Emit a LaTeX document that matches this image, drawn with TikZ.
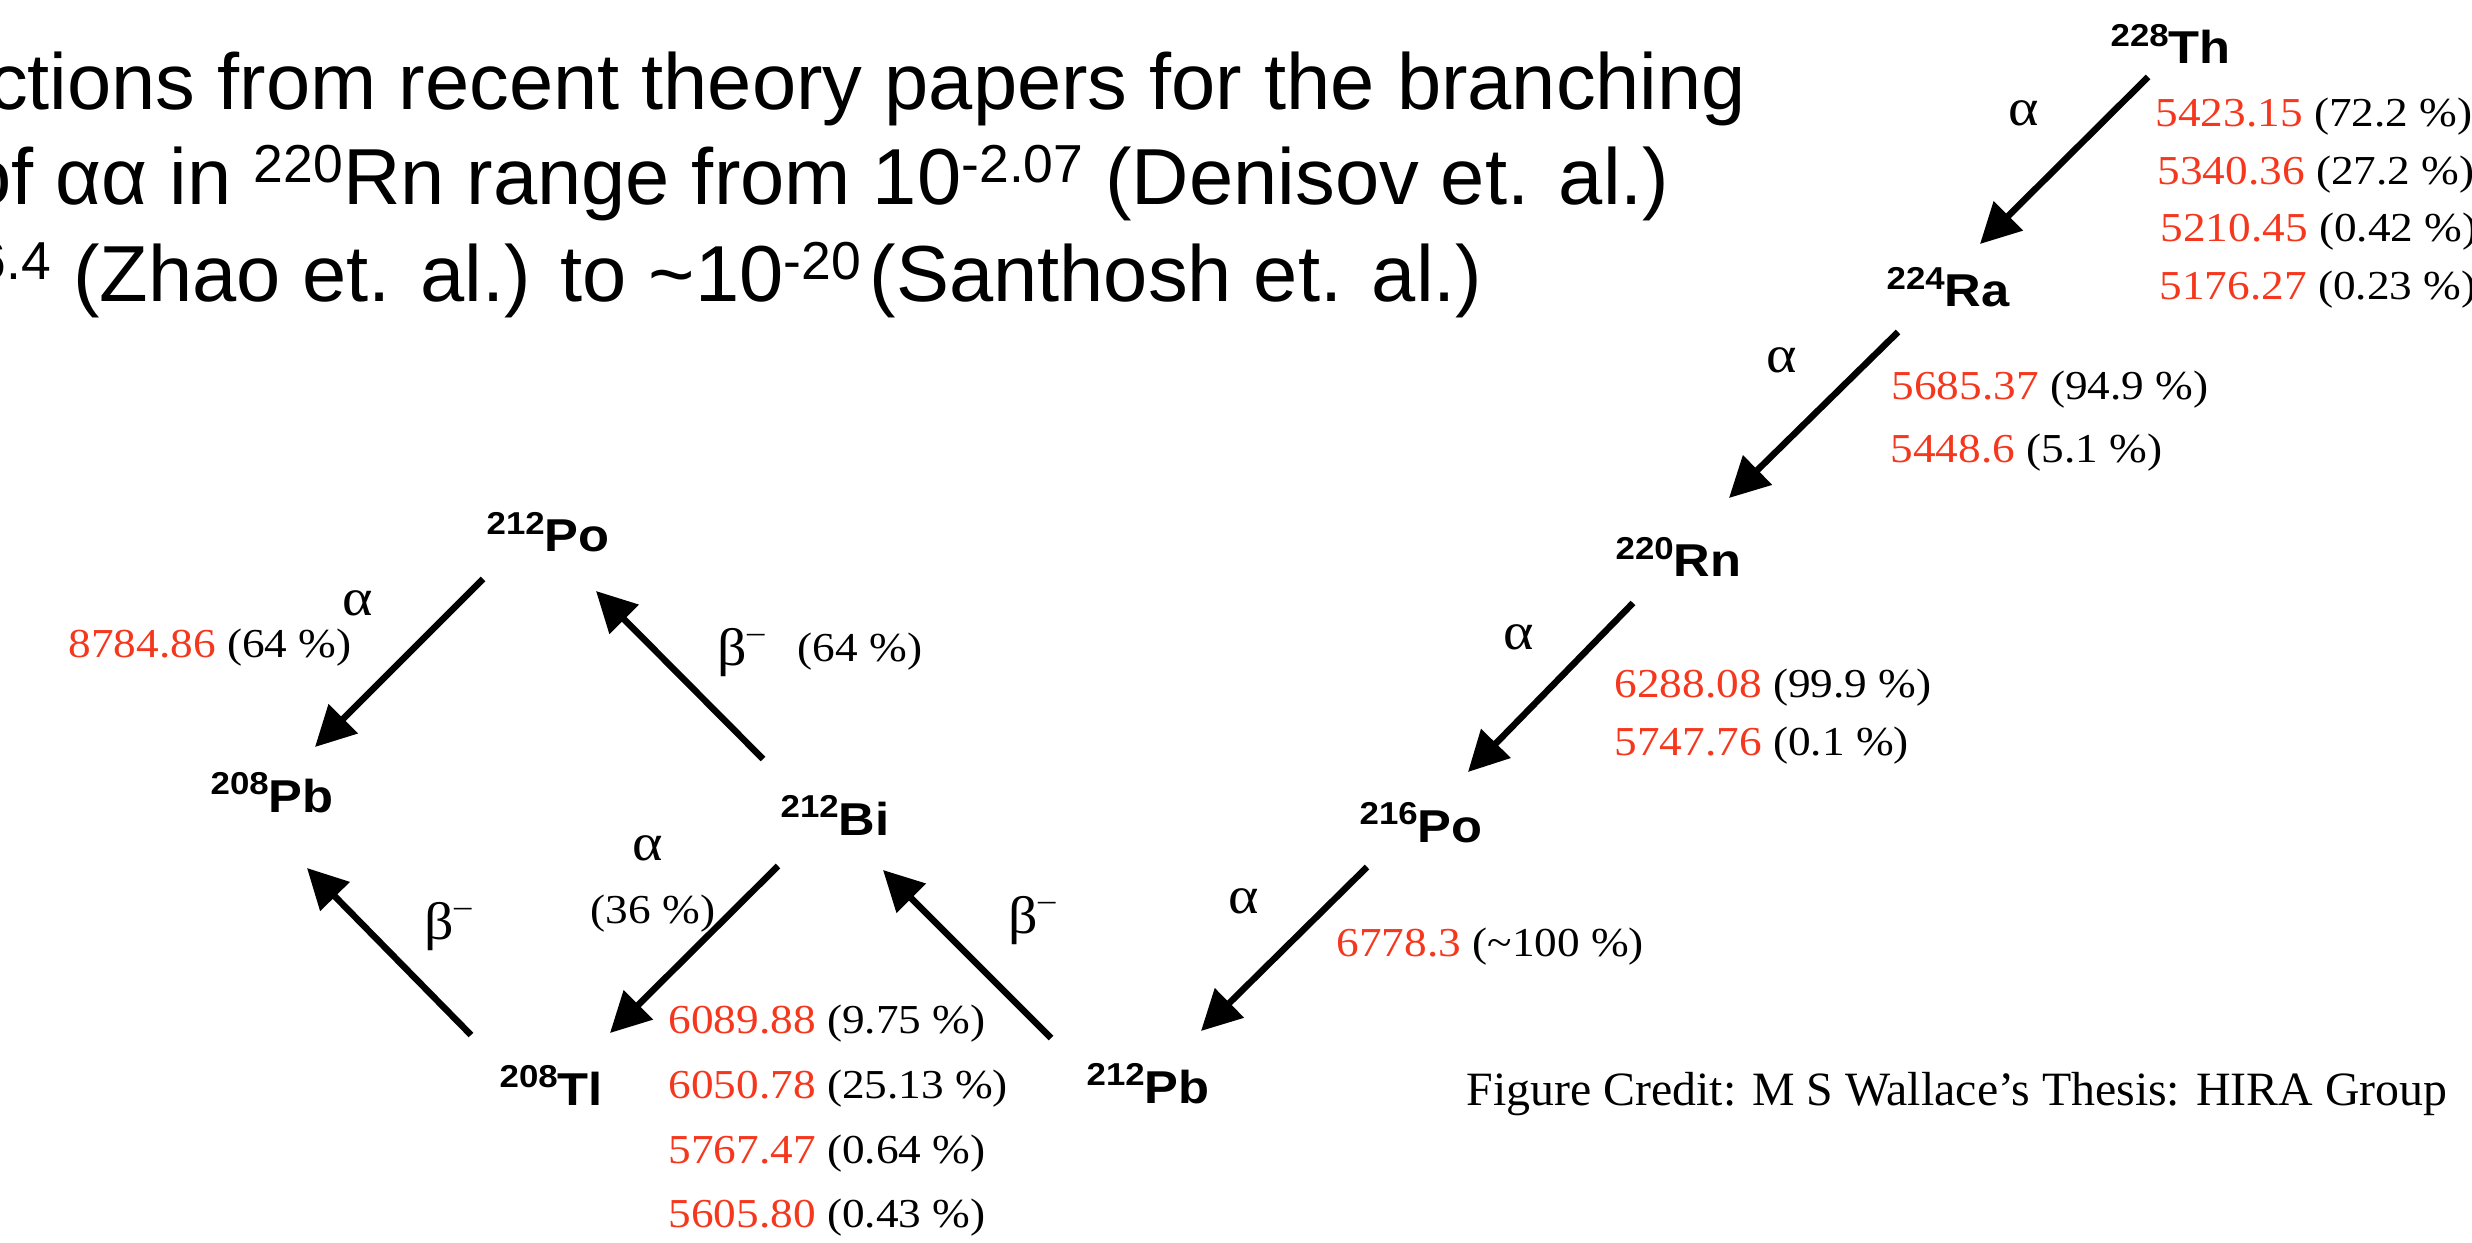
\documentclass[tikz,border=0pt]{standalone}
\usepackage{fontspec}
\setmainfont{Liberation Serif}
\newfontfamily\hdfont{Liberation Sans}
\newfontfamily\nucfont[FakeStretch=1.1]{Liberation Sans}
\newfontfamily\enfont[FakeStretch=1.1]{Liberation Serif}
\usetikzlibrary{arrows.meta}
\definecolor{enred}{RGB}{245,55,30}
\newcommand{\hsup}[1]{\raisebox{6.4pt}{\fontsize{15.2}{15.2}\selectfont #1}}
\newcommand{\nuc}[2]{\raisebox{4.9pt}{\fontsize{9}{9}\selectfont #1}#2}
\newcommand{\en}[2]{\textcolor{enred}{#1} #2}
\newcommand{\bminus}{β\raisebox{0.45em}{\fontsize{9}{9}\selectfont –}}
\begin{document}
\begin{tikzpicture}[x=0.01cm,y=-0.01cm,
  nucl/.style={inner sep=0pt,anchor=base west,font=\nucfont\bfseries\fontsize{13.1}{13.1}\selectfont},
  ener/.style={inner sep=0pt,anchor=base west,font=\enfont\fontsize{11.7}{11.7}\selectfont},
  glab/.style={inner sep=0pt,anchor=center,font=\enfont\fontsize{15}{15}\selectfont},
  hdline/.style={inner sep=0pt,anchor=base east,font=\hdfont\fontsize{22.6}{22.6}\selectfont},
  decay/.style={line width=1.85pt,-{Triangle[length=0.4cm,width=0.4cm]}}]
\useasboundingbox (0,0) rectangle (2472,1243);
\clip (0,0) rectangle (2472,1243);
% header text
\node[hdline] (h1) at (1747,110) {ctions from recent theory papers for the branching};
\node[hdline] (h2) at (1670,205) {of αα in \hsup{220}Rn range from 10\hsup{-2.07} (Denisov et. al.)};
\node[hdline] (h3) at (1483,302) {\hsup{6.4} (Zhao et. al.) to \textasciitilde10\hsup{-20\,}(Santhosh et. al.)};
% nuclides
\node[nucl] (Th) at (2110,64) {\nuc{228}{Th}};
\node[nucl] (Ra) at (1886,307) {\nuc{224}{Ra}};
\node[nucl] (Rn) at (1615,577) {\nuc{220}{Rn}};
\node[nucl] (PoA) at (1359,842) {\nuc{216}{Po}};
\node[nucl] (PbA) at (1086,1103) {\nuc{212}{Pb}};
\node[nucl] (Bi) at (780,835) {\nuc{212}{Bi}};
\node[nucl] (Tl) at (499,1105) {\nuc{208}{Tl}};
\node[nucl] (PoB) at (486,552) {\nuc{212}{Po}};
\node[nucl] (PbB) at (210,812) {\nuc{208}{Pb}};
% decay arrows
\draw[decay] ([shift={(38,13)}]Th.base west) -- ([shift={(94,-63)}]Ra.base west);
\draw[decay] ([shift={(12,25)}]Ra.base west) -- ([shift={(114,-79)}]Rn.base west);
\draw[decay] ([shift={(18,26)}]Rn.base west) -- ([shift={(109,-70)}]PoA.base west);
\draw[decay] ([shift={(8,25)}]PoA.base west) -- ([shift={(115,-72)}]PbA.base west);
\draw[decay] ([shift={(-35,-65)}]PbA.base west) -- ([shift={(103,35)}]Bi.base west);
\draw[decay] ([shift={(-2,31)}]Bi.base west) -- ([shift={(111,-72)}]Tl.base west);
\draw[decay] ([shift={(-28,-70)}]Tl.base west) -- ([shift={(97,56)}]PbB.base west);
\draw[decay] ([shift={(-17,-76)}]Bi.base west) -- ([shift={(110,39)}]PoB.base west);
\draw[decay] ([shift={(-3,27)}]PoB.base west) -- ([shift={(105,-65)}]PbB.base west);
% decay mode labels
\node[glab] (aTh) at (2024,113) {α};
\node[glab] (aRa) at (1782,360) {α};
\node[glab] (aRn) at (1519,637) {α};
\node[glab] (aPoA) at (1244,901) {α};
\node[glab] (bPbA) at (1032,921) {\bminus};
\node[glab] (aBi) at (648,848) {α};
\node[ener] (pBi) at (590,923) {(36 \%)};
\node[glab] (bTl) at (448,927) {\bminus};
\node[glab] (bBi) at (741,653) {\bminus};
\node[ener] (pBiPo) at (797,662) {(64 \%)};
\node[glab] (aPoB) at (358,603) {α};
% energies
\node[ener] (eTh1) at (2155,127) {\en{5423.15}{(72.2 \%)}};
\node[ener] (eTh2) at (2157,185) {\en{5340.36}{(27.2 \%)}};
\node[ener] (eTh3) at (2160,242) {\en{5210.45}{(0.42 \%)}};
\node[ener] (eTh4) at (2159,300) {\en{5176.27}{(0.23 \%)}};
\node[ener] (eRa1) at (1891,400) {\en{5685.37}{(94.9 \%)}};
\node[ener] (eRa2) at (1890,463) {\en{5448.6}{(5.1 \%)}};
\node[ener] (eRn1) at (1614,697) {\en{6288.08}{(99.9 \%)}};
\node[ener] (eRn2) at (1614,755) {\en{5747.76}{(0.1 \%)}};
\node[ener] (ePoA) at (1336,956) {\en{6778.3}{(\textasciitilde100 \%)}};
\node[ener] (eBi1) at (668,1033) {\en{6089.88}{(9.75 \%)}};
\node[ener] (eBi2) at (668,1098) {\en{6050.78}{(25.13 \%)}};
\node[ener] (eBi3) at (668,1163) {\en{5767.47}{(0.64 \%)}};
\node[ener] (eBi4) at (668,1227) {\en{5605.80}{(0.43 \%)}};
\node[ener] (ePoB) at (68,657) {\en{8784.86}{(64 \%)}};
% credit
\node[inner sep=0pt,anchor=base west,font=\fontsize{13.6}{13.6}\selectfont] (credit) at (1466,1105) {Figure Credit: M S Wallace’s Thesis: HIRA Group};
\end{tikzpicture}
\end{document}
